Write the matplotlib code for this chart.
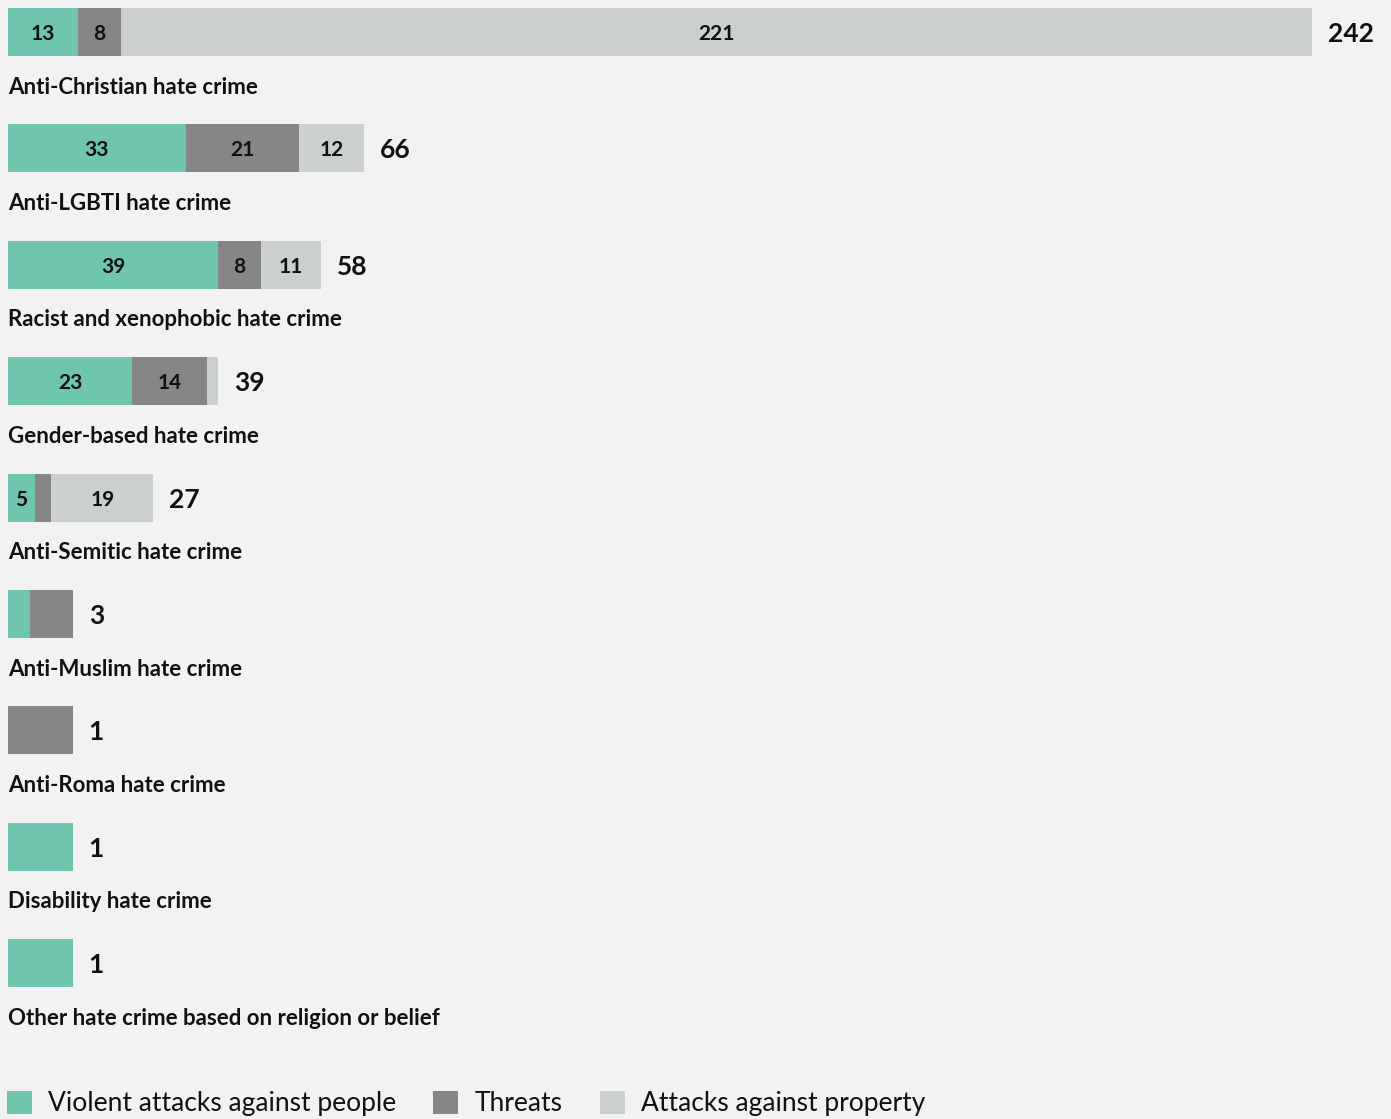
import matplotlib
matplotlib.use("Agg")
import matplotlib.pyplot as plt
from matplotlib.patches import Patch

categories = [
    "Anti-Christian hate crime",
    "Anti-LGBTI hate crime",
    "Racist and xenophobic hate crime",
    "Gender-based hate crime",
    "Anti-Semitic hate crime",
    "Anti-Muslim hate crime",
    "Anti-Roma hate crime",
    "Disability hate crime",
    "Other hate crime based on religion or belief",
]
violent = [13, 33, 39, 23, 5, 1, 0, 1, 1]
threats = [8, 21, 8, 14, 3, 2, 1, 0, 0]
property_ = [221, 12, 11, 2, 19, 0, 0, 0, 0]
series_names = ["Violent attacks against people", "Threats", "Attacks against property"]
colors = ["#6fc5ad", "#868686", "#cbcfcd"]
bg = "#f2f2f2"

FONT = ["Lato", "DejaVu Sans"]
plt.rcParams["font.family"] = FONT

W, H = 1391, 1119
fig = plt.figure(figsize=(W / 100, H / 100), dpi=100, facecolor=bg)
ax = fig.add_axes([0, 0, 1, 1], facecolor=bg)

ppu = 1304 / 242.0
ax.set_xlim(-8 / ppu, (W - 8) / ppu)
ax.set_ylim(H, 0)
ax.axis("off")

row0, step, bar_h = 32, 116.4, 48
min_total = 12

for i, cat in enumerate(categories):
    vals = [violent[i], threats[i], property_[i]]
    total = sum(vals)
    scale = max(total, min_total) / total
    yc = row0 + i * step
    left = 0
    for v, c in zip(vals, colors):
        w = v * scale
        if w > 0:
            ax.barh(yc, w, left=left, height=bar_h, color=c, linewidth=0)
            if v >= 5:
                ax.text(left + w / 2, yc + 2, str(v), ha="center", va="center",
                        fontsize=15, fontweight="bold", color="#111111")
        left += w
    ax.text(left + 16 / ppu, yc + 2, str(total), ha="left", va="center",
            fontsize=19, fontweight="bold", color="#111111")
    ax.text(0.0, yc + 55, cat, ha="left", va="center",
            fontsize=16, fontweight="bold", color="#111111")

handles = [Patch(facecolor=c, edgecolor="none") for c in colors]
fig.legend(handles, series_names, loc="lower left",
           bbox_to_anchor=(4 / W, 0 / H), ncol=3, frameon=False,
           fontsize=19, handlelength=0.95, handleheight=0.95,
           handletextpad=0.6, columnspacing=1.42, borderpad=0.1,
           borderaxespad=0, labelcolor="#111111")

fig.savefig("out.png", dpi=100, facecolor=bg)
